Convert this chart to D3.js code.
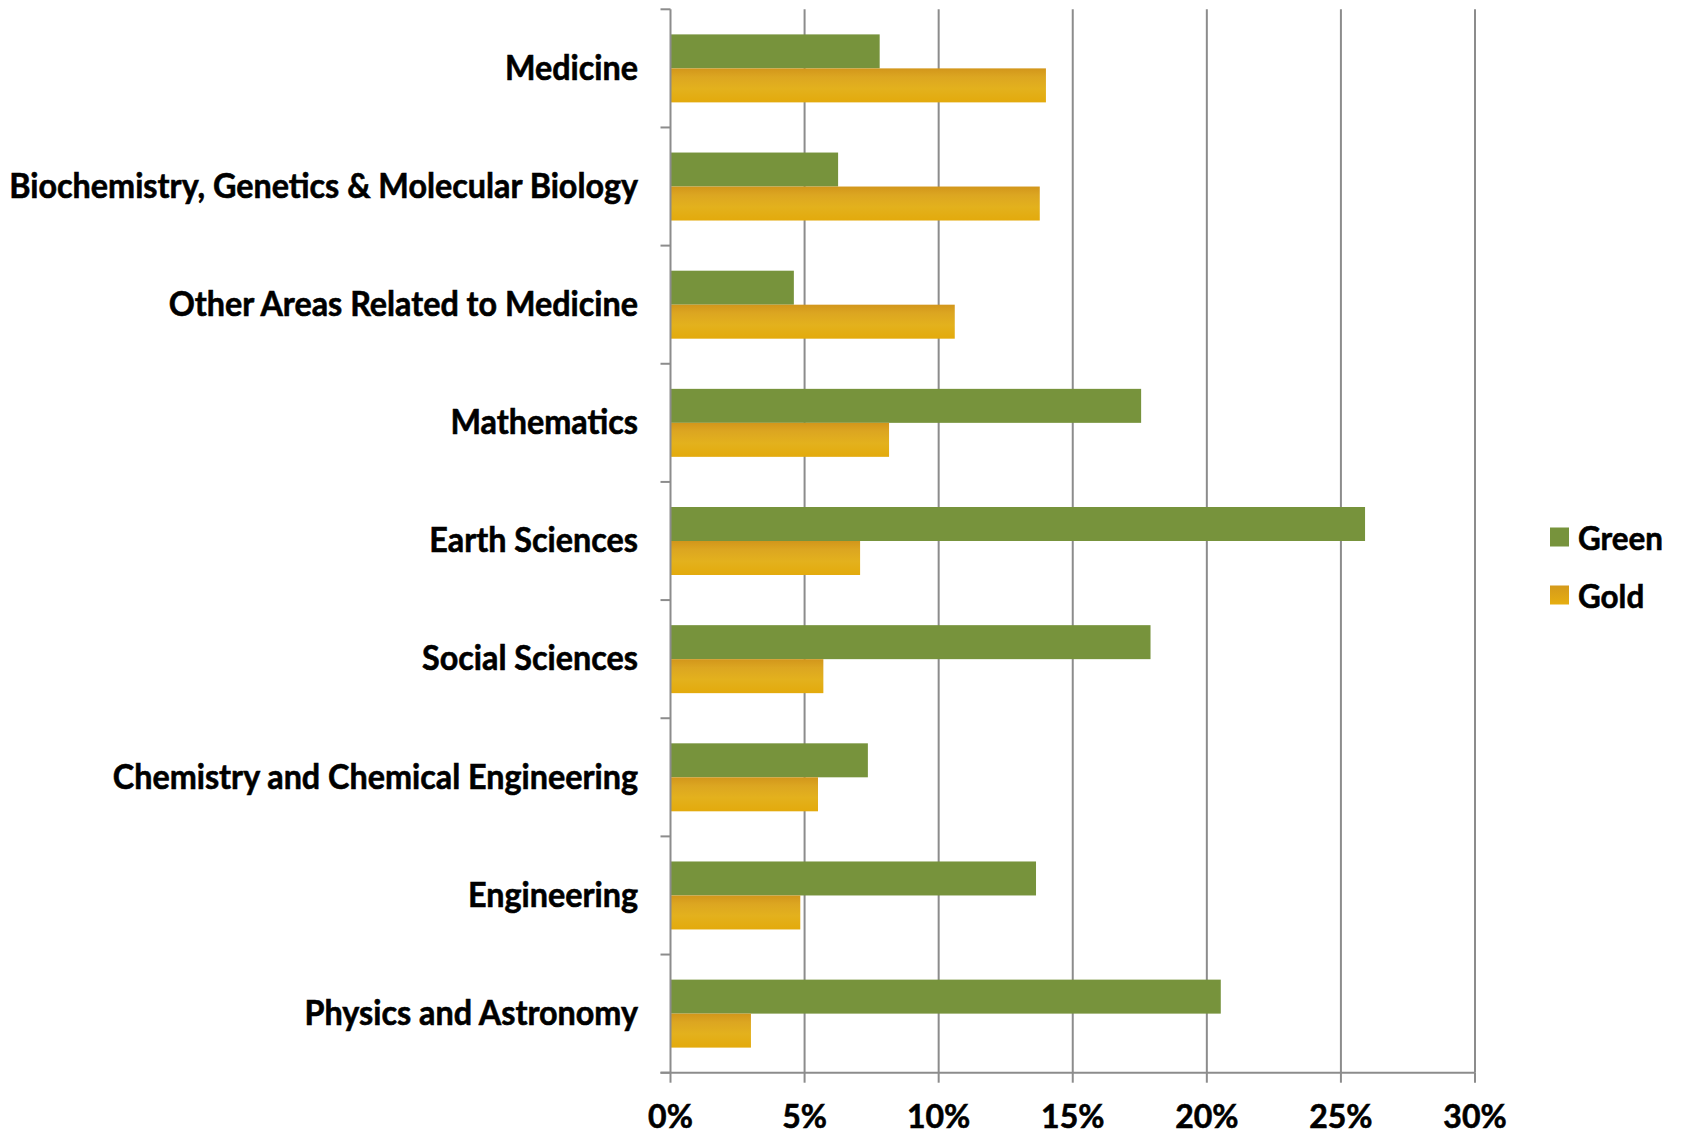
<!DOCTYPE html>
<html><head><meta charset="utf-8">
<script src="https://cdn.jsdelivr.net/npm/d3@7"></script>
<style>body{margin:0;background:#fff}svg{display:block}text{font-family:Lato,"Open Sans",sans-serif;font-weight:bold;fill:#000}</style>
</head><body>
<svg id="c" width="1682" height="1134"></svg>
<script>
const categories = ["Medicine","Biochemistry, Genetics & Molecular Biology","Other Areas Related to Medicine","Mathematics","Earth Sciences","Social Sciences","Chemistry and Chemical Engineering","Engineering","Physics and Astronomy"];
const seriesNames = ["Green","Gold"];
const greenValues = [7.8, 6.25, 4.6, 17.55, 25.9, 17.9, 7.36, 13.63, 20.52];
const goldValues  = [14.0, 13.77, 10.6, 8.15, 7.07, 5.7, 5.5, 4.84, 3.0];
const xTicks = [0,5,10,15,20,25,30];
const xTickLabels = ["0%","5%","10%","15%","20%","25%","30%"];

(function(){
const svg = d3.select("#c");
const defs = svg.append("defs");
const grad = defs.append("linearGradient").attr("id","goldGrad").attr("x1",0).attr("y1",0).attr("x2",0).attr("y2",1);
grad.append("stop").attr("offset","0%").attr("stop-color","#d2961b");
grad.append("stop").attr("offset","25%").attr("stop-color","#dca621");
grad.append("stop").attr("offset","60%").attr("stop-color","#e3b11d");
grad.append("stop").attr("offset","100%").attr("stop-color","#e3aa0c");
const lgrad = defs.append("linearGradient").attr("id","goldGradL").attr("x1",0).attr("y1",0).attr("x2",0).attr("y2",1);
lgrad.append("stop").attr("offset","0%").attr("stop-color","#d49a1c");
lgrad.append("stop").attr("offset","100%").attr("stop-color","#e6ae10");

const pLeft = 670.5, pRight = 1475, pTop = 9.3, pBottom = 1072.7;
const x = d3.scaleLinear().domain([0,30]).range([pLeft,pRight]);
const y = d3.scaleBand().domain(categories).range([pTop,pBottom]).padding(0);
const inner = d3.scaleBand().domain(seriesNames).range([0,y.step()]).paddingInner(0).paddingOuter(0.738);
const colors = {Green:"#77933c", Gold:"url(#goldGrad)"};
const gridColor = "#8c8c8c";

svg.append("g").selectAll("line").data(xTicks.filter(d=>d>0)).join("line")
  .attr("x1",d=>x(d)).attr("x2",d=>x(d)).attr("y1",pTop).attr("y2",pBottom)
  .attr("stroke",gridColor).attr("stroke-width",2);

const data = categories.map((c,i)=>({c, Green:greenValues[i], Gold:goldValues[i]}));
const groups = svg.append("g").selectAll("g").data(data).join("g")
  .attr("transform",d=>`translate(0,${y(d.c)})`);
groups.selectAll("rect").data(d=>seriesNames.map(s=>({s,v:d[s]}))).join("rect")
  .attr("x",x(0)).attr("y",d=>inner(d.s)).attr("height",inner.bandwidth())
  .attr("width",d=>x(d.v)-x(0)).attr("fill",d=>colors[d.s]);

const yAxis = svg.append("g").attr("transform",`translate(${pLeft},0)`);
yAxis.append("line").attr("x1",0).attr("x2",0).attr("y1",pTop).attr("y2",pBottom).attr("stroke",gridColor).attr("stroke-width",2);
const yTickPos = categories.map(c=>y(c)).concat([pBottom]);
yAxis.selectAll(".yt").data(yTickPos).join("line").attr("class","yt")
  .attr("x1",-10).attr("x2",0).attr("y1",d=>d).attr("y2",d=>d).attr("stroke",gridColor).attr("stroke-width",2);

const xAxis = svg.append("g").attr("transform",`translate(0,${pBottom})`);
xAxis.append("line").attr("x1",pLeft-10).attr("x2",pRight).attr("stroke",gridColor).attr("stroke-width",2);
xAxis.selectAll(".xt").data(xTicks).join("line").attr("class","xt")
  .attr("x1",d=>x(d)).attr("x2",d=>x(d)).attr("y1",0).attr("y2",10).attr("stroke",gridColor).attr("stroke-width",2);

const labels = svg.append("g").selectAll("text").data(categories).join("text")
  .attr("text-anchor","end").attr("dominant-baseline","central")
  .style("font-size","34px").style("stroke","#000").style("stroke-width","0.6px").text(d=>d);
let maxW = 0; labels.each(function(){maxW=Math.max(maxW,this.getComputedTextLength());});
const sx = 629/maxW;
labels.attr("transform",d=>`translate(638,${y(d)+y.bandwidth()/2-2}) scale(${sx},1)`);

svg.append("g").selectAll("text").data(xTicks).join("text")
  .attr("text-anchor","middle").attr("dominant-baseline","central")
  .style("font-size","33px").style("stroke","#000").style("stroke-width","0.6px").text((d,i)=>xTickLabels[i])
  .attr("transform",d=>`translate(${x(d)},1115) scale(${sx*1.02},1)`);

const lg = svg.append("g");
const legendColors = {Green:"#77933c", Gold:"url(#goldGradL)"};
seriesNames.forEach((s,i)=>{
  const yy = 537 + i*58;
  lg.append("rect").attr("x",1550).attr("y",yy-9.5).attr("width",19).attr("height",19).attr("fill",legendColors[s]);
  lg.append("text").attr("dominant-baseline","central").style("font-size","33px").style("stroke","#000").style("stroke-width","0.6px")
    .attr("transform",`translate(1578,${yy}) scale(${sx},1)`).text(s);
});
})();
</script>
</body></html>
